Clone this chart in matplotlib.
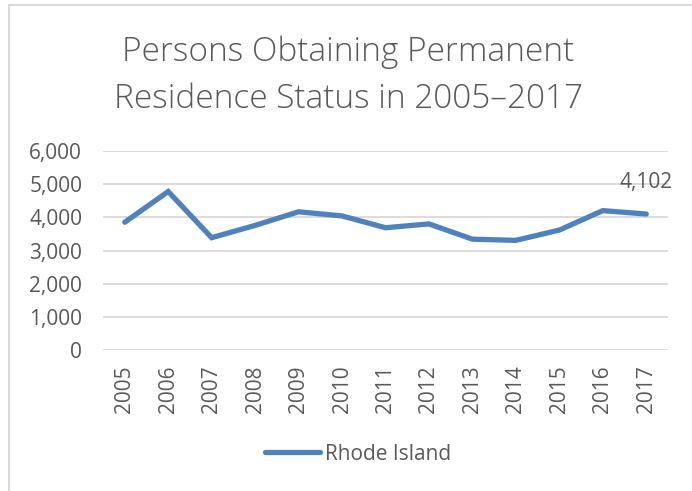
import matplotlib.pyplot as plt
from matplotlib.patches import Rectangle
from matplotlib.ticker import FuncFormatter

years = ['2005', '2006', '2007', '2008', '2009', '2010', '2011',
         '2012', '2013', '2014', '2015', '2016', '2017']
rhode_island = [3855, 4780, 3390, 3760, 4170, 4045, 3690,
                3805, 3345, 3310, 3620, 4205, 4102]
yticks = [0, 1000, 2000, 3000, 4000, 5000, 6000]

line_color = '#4f81bd'
text_color = '#595959'
grid_color = '#d9d9d9'
plt.rcParams['font.family'] = ['Open Sans', 'DejaVu Sans']

fig = plt.figure(figsize=(6.92, 4.91), dpi=100)
ax = fig.add_axes([103 / 692, 1 - 350.3 / 491, 565 / 692, 199.3 / 491])

# chart frame (only left + top edge visible in the crop)
fig.patches.append(Rectangle((9 / 692, -0.1), 1.2, 1.1 - 5 / 491, transform=fig.transFigure,
                             fill=False, edgecolor=grid_color, linewidth=1.5))

x = list(range(len(years)))
ax.plot(x, rhode_island, color=line_color, linewidth=3.8, solid_capstyle='round',
        solid_joinstyle='miter', label='Rhode Island', zorder=3)

ax.set_xlim(-0.5, len(years) - 0.5)
ax.set_ylim(0, 6000)
ax.set_yticks(yticks)
ax.yaxis.set_major_formatter(FuncFormatter(lambda v, p: f'{int(v):,}'))
ax.set_xticks(x)
ax.set_xticklabels(years, rotation=90)
ax.tick_params(length=0, labelsize=15, labelcolor=text_color)
ax.tick_params(axis='x', pad=11)
ax.tick_params(axis='y', pad=15)
ax.grid(axis='y', color=grid_color, linewidth=1.3)
for s in ax.spines.values():
    s.set_visible(False)

ax.annotate(f'{rhode_island[-1]:,}', (x[-1], rhode_island[-1]), xytext=(0, 23),
            textcoords='offset points', ha='center', va='center',
            fontsize=15, color=text_color)

fig.text(0.503, 1 - 76 / 491, 'Persons Obtaining Permanent\nResidence Status in 2005\u20132017',
         ha='center', va='center', fontsize=24, color=text_color, fontweight='light',
         linespacing=1.52)

fig.legend(loc='center', bbox_to_anchor=(0.517, 1 - 454 / 491), frameon=False,
           fontsize=15, labelcolor=text_color, handlelength=2.65, handletextpad=0.24)

fig.savefig('out.png', dpi=100)
